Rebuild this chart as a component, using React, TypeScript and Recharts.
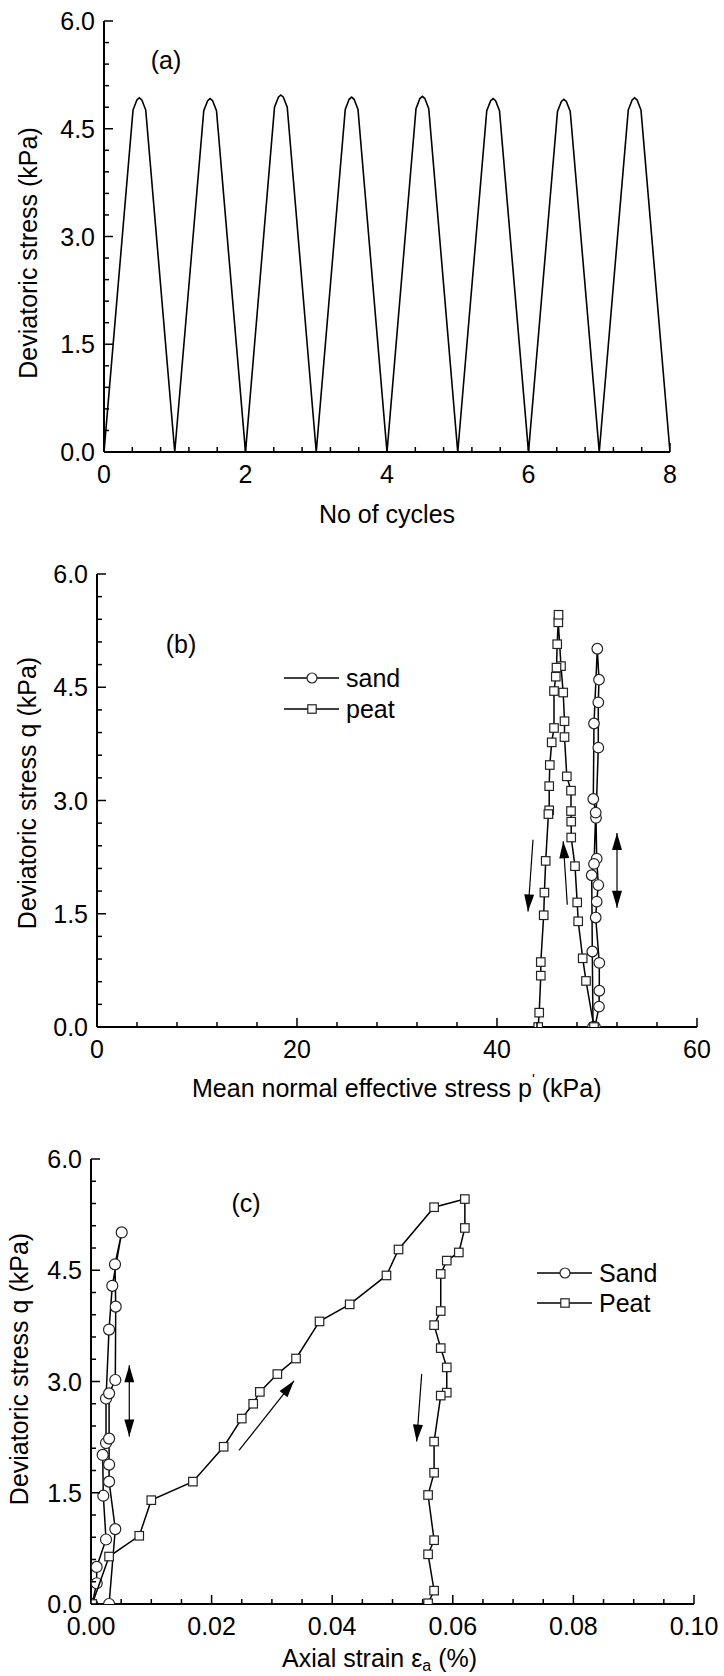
import React from 'react';
import { LineChart, Line, ScatterChart, Scatter, XAxis, YAxis, ReferenceLine } from 'recharts';

const FONT = '"Liberation Sans", Arial, Helvetica, sans-serif';
const FS = 25;

// ---------- Panel (a): deviatoric stress vs number of cycles ----------
const cycleX = [
  0, 0.41, 0.465, 0.5, 0.535, 0.59,
  1, 1.41, 1.465, 1.5, 1.535, 1.59,
  2, 2.41, 2.465, 2.5, 2.535, 2.59,
  3, 3.41, 3.465, 3.5, 3.535, 3.59,
  4, 4.41, 4.465, 4.5, 4.535, 4.59,
  5, 5.41, 5.465, 5.5, 5.535, 5.59,
  6, 6.41, 6.465, 6.5, 6.535, 6.59,
  7, 7.41, 7.465, 7.5, 7.535, 7.59,
  8,
];
const stressA = [
  0, 4.76, 4.9, 4.93, 4.9, 4.76,
  0, 4.75, 4.89, 4.92, 4.89, 4.75,
  0, 4.8, 4.94, 4.97, 4.94, 4.8,
  0, 4.77, 4.91, 4.94, 4.91, 4.77,
  0, 4.78, 4.92, 4.95, 4.92, 4.78,
  0, 4.75, 4.89, 4.92, 4.89, 4.75,
  0, 4.74, 4.88, 4.91, 4.88, 4.74,
  0, 4.76, 4.9, 4.93, 4.9, 4.76,
  0,
];

// ---------- Panel (b): q vs p' ----------
const sandP = [49.8, 50.2, 50.23, 50.23, 49.87, 49.97, 50.13, 49.97, 49.9, 50.13, 50.13, 50.2, 50.03, 49.7, 49.63, 49.87, 49.7, 49.47, 49.53, 49.6];
const sandQb = [0, 0.27, 0.48, 0.85, 1.45, 1.66, 1.88, 2.23, 2.77, 3.7, 4.3, 4.6, 5.01, 4.02, 3.02, 2.84, 2.16, 2.01, 1.0, 0];
const peatP = [49.7, 48.9, 48.57, 48.12, 48.02, 47.8, 47.42, 47.42, 47.4, 47.4, 46.98, 46.75, 46.75, 46.62, 46.4, 46.13, 46.15, 46.02, 45.95, 45.88, 45.7, 45.7, 45.47, 45.28, 45.22, 45.22, 45.14, 44.87, 44.74, 44.67, 44.38, 44.38, 44.22, 44.12];
const peatQb = [0, 0.61, 0.91, 1.4, 1.65, 2.13, 2.51, 2.72, 2.86, 3.13, 3.32, 3.84, 4.05, 4.43, 4.78, 5.36, 5.46, 5.07, 4.76, 4.64, 4.45, 3.96, 3.77, 3.47, 3.19, 2.87, 2.82, 2.2, 1.78, 1.48, 0.86, 0.68, 0.19, 0];

// ---------- Panel (c): q vs axial strain ----------
const sandStrain = [0.0002, 0.00094, 0.00094, 0.00249, 0.00204, 0.00194, 0.00249, 0.00249, 0.00299, 0.00353, 0.00509, 0.00398, 0.0041, 0.00403, 0.003, 0.003, 0.003, 0.003, 0.00403, 0.003];
const sandQc = [0, 0.28, 0.5, 0.87, 1.46, 2.01, 2.17, 2.77, 3.7, 4.29, 5.01, 4.58, 4.01, 3.02, 2.84, 2.23, 1.88, 1.65, 1.01, 0];
const peatStrain = [0.0002, 0.003, 0.008, 0.01, 0.0169, 0.022, 0.025, 0.0269, 0.028, 0.0309, 0.034, 0.0379, 0.0429, 0.049, 0.051, 0.0569, 0.062, 0.062, 0.061, 0.059, 0.058, 0.058, 0.0569, 0.058, 0.059, 0.059, 0.058, 0.0569, 0.0569, 0.0559, 0.0569, 0.0559, 0.0569, 0.0559];
const peatQc = [0, 0.64, 0.92, 1.4, 1.65, 2.12, 2.5, 2.7, 2.86, 3.1, 3.31, 3.81, 4.04, 4.43, 4.78, 5.35, 5.46, 5.07, 4.74, 4.63, 4.45, 3.95, 3.76, 3.45, 3.19, 2.85, 2.81, 2.19, 1.77, 1.47, 0.86, 0.67, 0.18, 0.01];

// ---------- Ticks ----------
const yTicks = [0, 0.3, 0.6, 0.9, 1.2, 1.5, 1.8, 2.1, 2.4, 2.7, 3, 3.3, 3.6, 3.9, 4.2, 4.5, 4.8, 5.1, 5.4, 5.7, 6];
const yMajor = [0, 1.5, 3, 4.5, 6];
const xTicksA = [0, 0.4, 0.8, 1.2, 1.6, 2, 2.4, 2.8, 3.2, 3.6, 4, 4.4, 4.8, 5.2, 5.6, 6, 6.4, 6.8, 7.2, 7.6, 8];
const xMajorA = [0, 2, 4, 6, 8];
const xTicksB = [0, 4, 8, 12, 16, 20, 24, 28, 32, 36, 40, 44, 48, 52, 56, 60];
const xMajorB = [0, 20, 40, 60];
const xTicksC = [0, 0.005, 0.01, 0.015, 0.02, 0.025, 0.03, 0.035, 0.04, 0.045, 0.05, 0.055, 0.06, 0.065, 0.07, 0.075, 0.08, 0.085, 0.09, 0.095, 0.1];
const xMajorC = [0, 0.02, 0.04, 0.06, 0.08, 0.1];

const isMajor = (majors: number[], v: number) => majors.some((m) => Math.abs(m - v) < 1e-9);

const makeBottomTick = (majors: number[], digits: number) => (props: any) => {
  const { x, y, payload } = props;
  const v = payload.value as number;
  const major = isMajor(majors, v);
  return (
    <g>
      <line x1={x} y1={y} x2={x} y2={y - (major ? 9 : 5)} stroke="#000" strokeWidth={1.5} />
      {major && (
        <text x={x} y={y + 22} textAnchor="middle" dominantBaseline="central" fontSize={FS} fontFamily={FONT} fill="#000">
          {v.toFixed(digits)}
        </text>
      )}
    </g>
  );
};

const leftTick = (props: any) => {
  const { x, y, payload } = props;
  const v = payload.value as number;
  const major = isMajor(yMajor, v);
  return (
    <g>
      <line x1={x} y1={y} x2={x + (major ? 9 : 5)} y2={y} stroke="#000" strokeWidth={1.5} />
      {major && (
        <text x={x - 9} y={y} textAnchor="end" dominantBaseline="central" fontSize={FS} fontFamily={FONT} fill="#000">
          {v.toFixed(1)}
        </text>
      )}
    </g>
  );
};

const circleShape = (r: number) => (props: any) => (
  <circle cx={props.cx} cy={props.cy} r={r} fill="#fff" stroke="#222" strokeWidth={1.2} />
);
const squareShape = (s: number) => (props: any) => (
  <rect x={props.cx - s / 2} y={props.cy - s / 2} width={s} height={s} fill="#fff" stroke="#222" strokeWidth={1.2} />
);

const headPts = (tx: number, ty: number, ux: number, uy: number) => {
  const bx = tx - ux * 17;
  const by = ty - uy * 17;
  const px = -uy * 5;
  const py = ux * 5;
  return `${tx},${ty} ${bx + px},${by + py} ${bx - px},${by - py}`;
};
const arrowShape = (double: boolean) => (p: any) => {
  const { x1, y1, x2, y2 } = p;
  const L = Math.hypot(x2 - x1, y2 - y1) || 1;
  const ux = (x2 - x1) / L;
  const uy = (y2 - y1) / L;
  return (
    <g>
      <line x1={x1} y1={y1} x2={x2} y2={y2} stroke="#000" strokeWidth={1.2} />
      <polygon points={headPts(x2, y2, ux, uy)} fill="#000" />
      {double && <polygon points={headPts(x1, y1, -ux, -uy)} fill="#000" />}
    </g>
  );
};

const axisLineStyle = { stroke: '#000', strokeWidth: 2 };

const dataA = cycleX.map((x, i) => ({ x, y: stressA[i] }));
const sandB = sandP.map((x, i) => ({ x, y: sandQb[i] }));
const peatB = peatP.map((x, i) => ({ x, y: peatQb[i] }));
const sandC = sandStrain.map((x, i) => ({ x, y: sandQc[i] }));
const peatC = peatStrain.map((x, i) => ({ x, y: peatQc[i] }));

const yAxisCommon = {
  type: 'number' as const,
  domain: [0, 6],
  ticks: yTicks,
  interval: 0 as const,
  tickSize: 0,
  tickMargin: 0,
  tickLine: false,
  axisLine: axisLineStyle,
  tick: leftTick,
  allowDataOverflow: true,
};

const Txt = ({ x, y, children, anchor = 'start', rotate = false }: any) => (
  <text
    x={x}
    y={y}
    textAnchor={anchor}
    dominantBaseline="central"
    fontSize={FS}
    fontFamily={FONT}
    fill="#000"
    transform={rotate ? `rotate(-90 ${x} ${y})` : undefined}
  >
    {children}
  </text>
);

const LegendRow = ({ x, y, label, kind }: any) => (
  <g>
    <line x1={x} y1={y} x2={x + 55} y2={y} stroke="#000" strokeWidth={1.5} />
    {kind === 'circle' ? (
      <circle cx={x + 28} cy={y} r={5} fill="#fff" stroke="#222" strokeWidth={1.2} />
    ) : (
      <rect x={x + 28 - 4.2} y={y - 4.2} width={8.4} height={8.4} fill="#fff" stroke="#222" strokeWidth={1.2} />
    )}
    <Txt x={x + 62} y={y}>{label}</Txt>
  </g>
);

export default function App() {
  return (
    <div style={{ position: 'absolute', left: 0, top: 0, width: 724, height: 1676, background: '#fff' }}>
      <div style={{ position: 'absolute', left: 0, top: 0 }}>
        <LineChart width={724} height={540} data={dataA} margin={{ top: 21, right: 54, bottom: 0, left: 0 }}>
          <XAxis
            dataKey="x"
            type="number"
            domain={[0, 8]}
            ticks={xTicksA}
            interval={0}
            tickSize={0}
            tickMargin={0}
            tickLine={false}
            axisLine={axisLineStyle}
            tick={makeBottomTick(xMajorA, 0)}
            height={88}
            allowDataOverflow
          />
          <YAxis {...yAxisCommon} width={104} />
          <Line dataKey="y" type="linear" stroke="#000" strokeWidth={1.6} dot={false} isAnimationActive={false} />
        </LineChart>
      </div>

      <div style={{ position: 'absolute', left: 0, top: 540 }}>
        <ScatterChart width={724} height={540} margin={{ top: 34, right: 27, bottom: 0, left: 0 }}>
          <XAxis
            dataKey="x"
            type="number"
            domain={[0, 60]}
            ticks={xTicksB}
            interval={0}
            tickSize={0}
            tickMargin={0}
            tickLine={false}
            axisLine={axisLineStyle}
            tick={makeBottomTick(xMajorB, 0)}
            height={53}
            allowDataOverflow
          />
          <YAxis dataKey="y" {...yAxisCommon} width={97} />
          <Scatter data={sandB} shape={circleShape(5.3)} line={{ stroke: '#000', strokeWidth: 1.5 }} isAnimationActive={false} />
          <Scatter data={peatB} shape={squareShape(8.5)} line={{ stroke: '#000', strokeWidth: 1.5 }} isAnimationActive={false} />
          <ReferenceLine segment={[{ x: 43.6, y: 2.48 }, { x: 43.1, y: 1.53 }]} shape={arrowShape(false)} />
          <ReferenceLine segment={[{ x: 47.03, y: 1.62 }, { x: 46.62, y: 2.46 }]} shape={arrowShape(false)} />
          <ReferenceLine segment={[{ x: 52.0, y: 2.57 }, { x: 52.0, y: 1.58 }]} shape={arrowShape(true)} />
        </ScatterChart>
      </div>

      <div style={{ position: 'absolute', left: 0, top: 1080 }}>
        <ScatterChart width={724} height={596} margin={{ top: 79, right: 30, bottom: 0, left: 0 }}>
          <XAxis
            dataKey="x"
            type="number"
            domain={[0, 0.1]}
            ticks={xTicksC}
            interval={0}
            tickSize={0}
            tickMargin={0}
            tickLine={false}
            axisLine={axisLineStyle}
            tick={makeBottomTick(xMajorC, 2)}
            height={72}
            allowDataOverflow
          />
          <YAxis dataKey="y" {...yAxisCommon} width={91} />
          <Scatter data={sandC} shape={circleShape(5.5)} line={{ stroke: '#000', strokeWidth: 1.5 }} isAnimationActive={false} />
          <Scatter data={peatC} shape={squareShape(8.5)} line={{ stroke: '#000', strokeWidth: 1.5 }} isAnimationActive={false} />
          <ReferenceLine segment={[{ x: 0.00635, y: 3.22 }, { x: 0.00635, y: 2.26 }]} shape={arrowShape(true)} />
          <ReferenceLine segment={[{ x: 0.02454, y: 2.07 }, { x: 0.03367, y: 3.01 }]} shape={arrowShape(false)} />
          <ReferenceLine segment={[{ x: 0.05484, y: 3.1 }, { x: 0.05401, y: 2.19 }]} shape={arrowShape(false)} />
        </ScatterChart>
      </div>

      <svg width={724} height={1676} style={{ position: 'absolute', left: 0, top: 0, pointerEvents: 'none' }}>
        {/* Panel (a) */}
        <Txt x={166} y={60} anchor="middle">(a)</Txt>
        <Txt x={28} y={253} anchor="middle" rotate>Deviatoric stress (kPa)</Txt>
        <Txt x={387} y={514} anchor="middle">No of cycles</Txt>

        {/* Panel (b) */}
        <Txt x={181} y={644} anchor="middle">(b)</Txt>
        <Txt x={27} y={793} anchor="middle" rotate>Deviatoric stress q (kPa)</Txt>
        <text x={192} y={1088} dominantBaseline="central" fontSize={FS} fontFamily={FONT} fill="#000">
          Mean normal effective stress p<tspan dy={-10} fontSize={15}>'</tspan>
          <tspan dy={10}> (kPa)</tspan>
        </text>
        <LegendRow x={284} y={678} label="sand" kind="circle" />
        <LegendRow x={284} y={709} label="peat" kind="square" />

        {/* Panel (c) */}
        <Txt x={246} y={1203} anchor="middle">(c)</Txt>
        <Txt x={19} y={1369} anchor="middle" rotate>Deviatoric stress q (kPa)</Txt>
        <text x={282} y={1658} dominantBaseline="central" fontSize={FS} fontFamily={FONT} fill="#000">
          Axial strain ε<tspan dy={7} fontSize={16}>a</tspan>
          <tspan dy={-7}> (%)</tspan>
        </text>
        <LegendRow x={537} y={1273} label="Sand" kind="circle" />
        <LegendRow x={537} y={1303} label="Peat" kind="square" />
      </svg>
    </div>
  );
}
